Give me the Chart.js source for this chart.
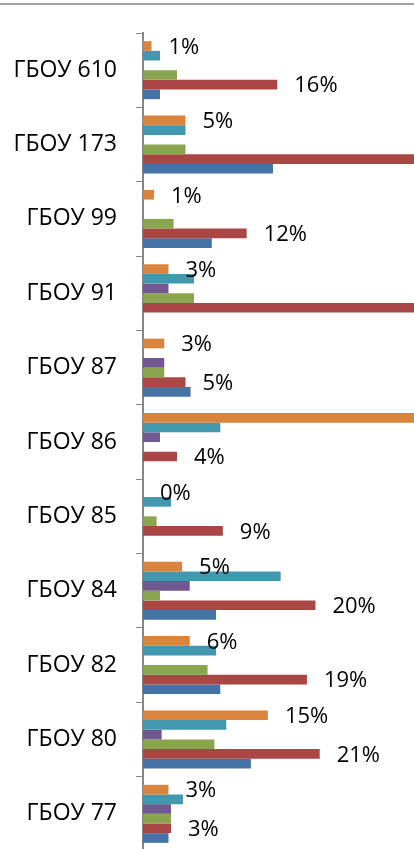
<!DOCTYPE html>
<html>
<head>
<meta charset="utf-8">
<script src="https://cdn.jsdelivr.net/npm/chart.js@4/dist/chart.umd.min.js"></script>
<style>
  html, body { margin: 0; padding: 0; background: #fff; overflow: hidden; }
  #chart { position: absolute; left: 0; top: 0; }
  #frame { position: absolute; left: 0; top: 3px; width: 414px; border-top: 2px solid #a3a3a3; }
</style>
</head>
<body>
<canvas id="chart" width="414" height="851"></canvas>
<div id="frame"></div>
<script>
// categories, top to bottom
const schools = ['ГБОУ 610', 'ГБОУ 173', 'ГБОУ 99', 'ГБОУ 91', 'ГБОУ 87', 'ГБОУ 86',
                 'ГБОУ 85', 'ГБОУ 84', 'ГБОУ 82', 'ГБОУ 80', 'ГБОУ 77'];

// series values in % (bars running past the edge are guesses)
const orangeVals = [1.0, 5.0, 1.3, 3.0, 2.5, 34, 0, 4.6, 5.5, 14.7, 3.0];
const cyanVals   = [2.0, 5.0, 0, 6.0, 0, 9.1, 3.3, 16.2, 8.6, 9.8, 4.7];
const purpleVals = [0, 0, 0, 3.0, 2.5, 2.0, 0, 5.5, 0, 2.2, 3.3];
const greenVals  = [4.0, 5.0, 3.6, 6.0, 2.5, 0, 1.6, 2.0, 7.6, 8.4, 3.3];
const redVals    = [15.8, 36, 12.2, 38, 5.0, 4.0, 9.4, 20.3, 19.3, 20.8, 3.3];
const blueVals   = [2.0, 15.3, 8.1, 0, 5.6, 0, 0, 8.6, 9.1, 12.7, 3.0];

const FONT = "'Open Sans', 'Liberation Sans', sans-serif";

// "NN%" right of the bar end for datasets flagged showValue
const valueLabels = {
  id: 'valueLabels',
  afterDatasetsDraw(chart) {
    const ctx = chart.ctx;
    ctx.save();
    ctx.font = '22px ' + FONT;
    ctx.fillStyle = '#000';
    ctx.textAlign = 'left';
    ctx.textBaseline = 'middle';
    chart.data.datasets.forEach((ds, i) => {
      if (!ds.showValue) return;
      chart.getDatasetMeta(i).data.forEach((bar, j) => {
        ctx.fillText(Math.round(ds.data[j]) + '%', bar.x + 17, bar.y + 1.5);
      });
    });
    ctx.restore();
  }
};

const ctx = document.getElementById('chart').getContext('2d');
new Chart(ctx, {
  type: 'bar',
  data: {
    labels: schools,
    datasets: [
      { data: orangeVals, backgroundColor: '#db843d', showValue: true },
      { data: cyanVals, backgroundColor: '#4198af' },
      { data: purpleVals, backgroundColor: '#71588f' },
      { data: greenVals, backgroundColor: '#89a54e' },
      { data: redVals, backgroundColor: '#aa4643', showValue: true },
      { data: blueVals, backgroundColor: '#4572a7' },
    ],
  },
  options: {
    indexAxis: 'y',
    responsive: false,
    animation: false,
    categoryPercentage: 0.78,
    barPercentage: 1,
    layout: { padding: { top: 33, left: 0, right: 0, bottom: 0 } },
    plugins: { legend: { display: false }, tooltip: { enabled: false } },
    scales: {
      x: { display: false, min: 0, max: 31.9 },
      y: {
        grid: { drawOnChartArea: false, drawTicks: true, tickLength: 7, color: '#868686', offset: true },
        border: { display: true, color: '#868686', width: 2 },
        ticks: { color: '#000', padding: 19, font: { family: FONT, size: 23 } },
        afterFit: (scale) => {
          scale.width = 143;
          // no extra room for the last label, the plot runs to the bottom edge
          scale.paddingTop = 0;
          scale.paddingBottom = 0;
        },
      },
    },
  },
  plugins: [valueLabels],
});
</script>
</body>
</html>
